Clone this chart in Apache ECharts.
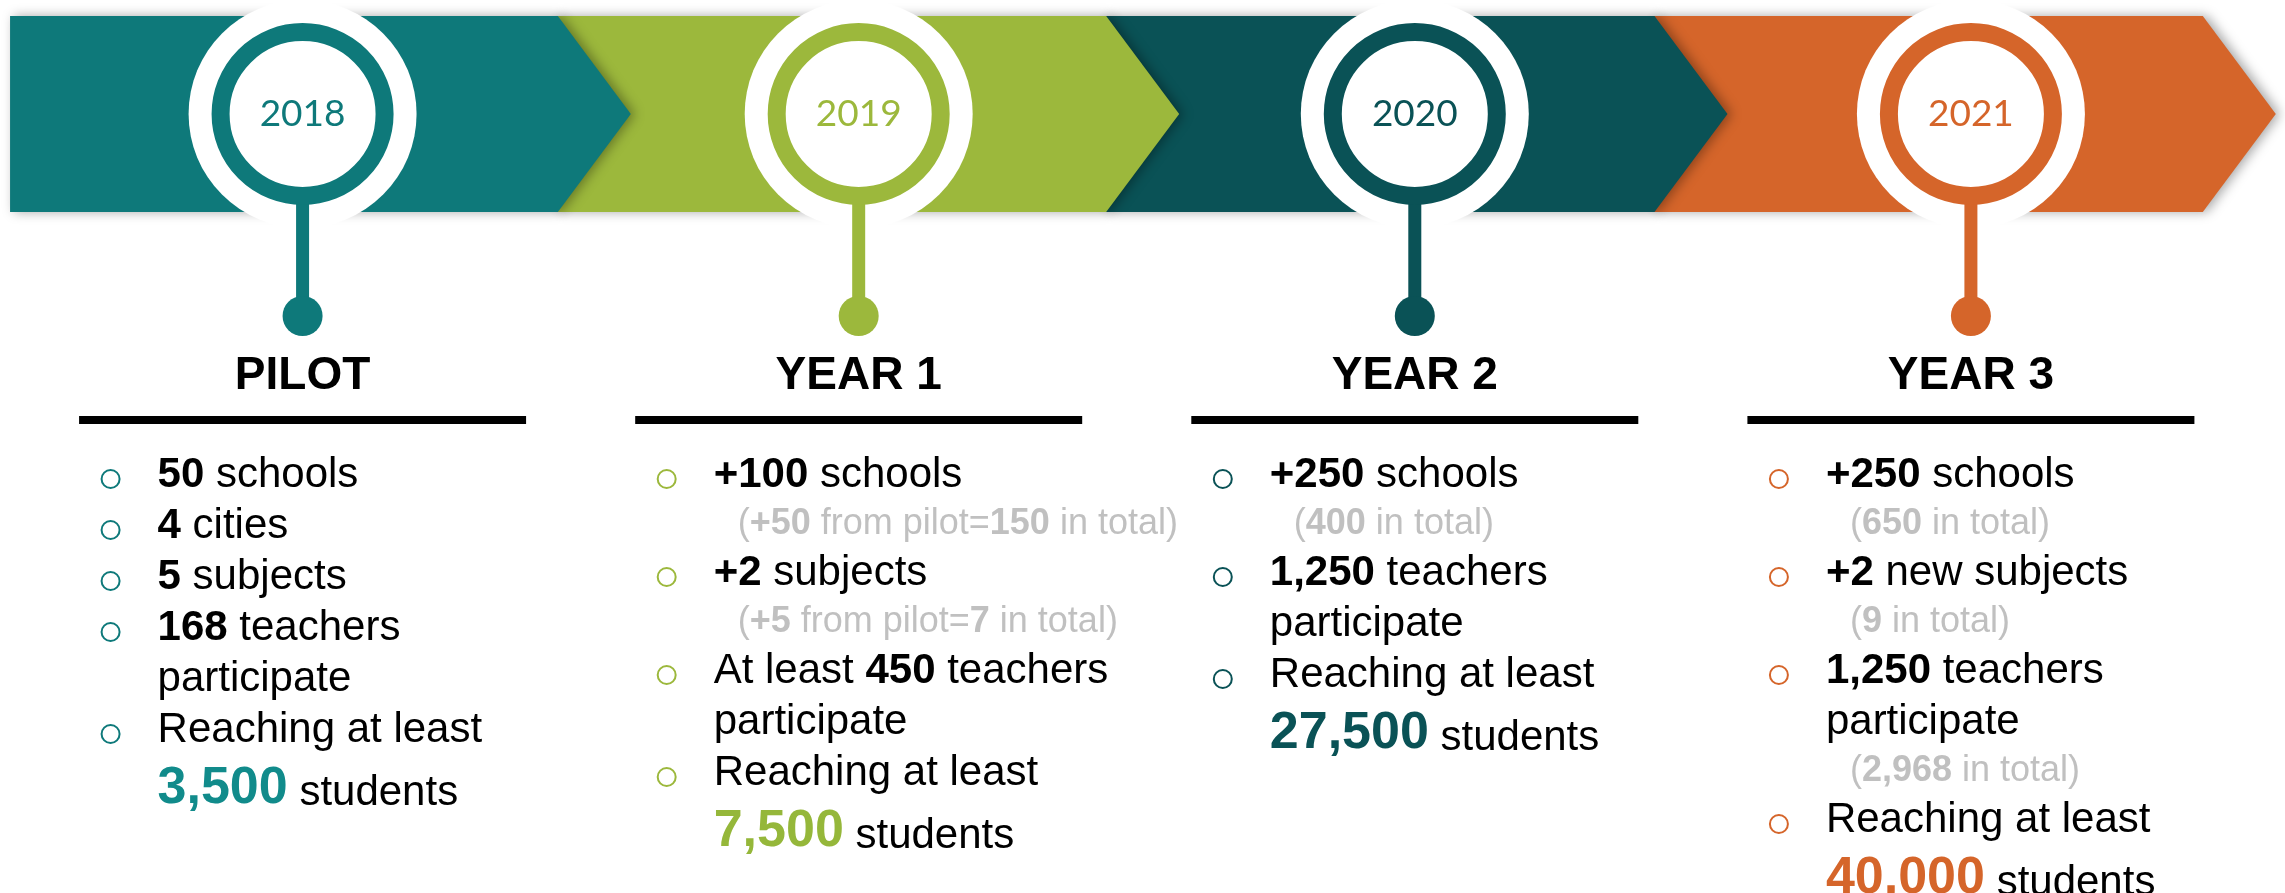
<!DOCTYPE html>
<html>
<head>
<meta charset="utf-8">
<title>Programme timeline 2018-2021</title>
<script src="https://cdn.jsdelivr.net/npm/echarts@6/dist/echarts.min.js"></script>
<style>
  html, body { margin: 0; padding: 0; background: #fff; }
  #chart { width: 2285px; height: 893px; }
</style>
</head>
<body>
<div id="chart"></div>
<script>
// timeline stages
const years = ['2018', '2019', '2020', '2021'];
const phases = ['PILOT', 'YEAR 1', 'YEAR 2', 'YEAR 3'];

// rows under each stage: b = new bullet, c = continued line,
// n = grey note, s = students line with the big number
const pilotRows = [
  ['b', '**50** schools'],
  ['b', '**4** cities'],
  ['b', '**5** subjects'],
  ['b', '**168** teachers'],
  ['c', 'participate'],
  ['b', 'Reaching at least'],
  ['s', '**3,500** students']
];
const year1Rows = [
  ['b', '**+100** schools'],
  ['n', '(**+50** from pilot=**150** in total)'],
  ['b', '**+2** subjects'],
  ['n', '(**+5** from pilot=**7** in total)'],
  ['b', 'At least **450** teachers'],
  ['c', 'participate'],
  ['b', 'Reaching at least'],
  ['s', '**7,500** students']
];
const year2Rows = [
  ['b', '**+250** schools'],
  ['n', '(**400** in total)'],
  ['b', '**1,250** teachers'],
  ['c', 'participate'],
  ['b', 'Reaching at least'],
  ['s', '**27,500** students']
];
const year3Rows = [
  ['b', '**+250** schools'],
  ['n', '(**650** in total)'],
  ['b', '**+2** new subjects'],
  ['n', '(**9** in total)'],
  ['b', '**1,250** teachers'],
  ['c', 'participate'],
  ['n', '(**2,968** in total)'],
  ['b', 'Reaching at least'],
  ['s', '**40,000** students']
];
const stageRows = [pilotRows, year1Rows, year2Rows, year3Rows];

// look
const bandColors = ['#0e797a', '#9cb83c', '#0a5256', '#d5652a'];
const numberColors = ['#118b8b', '#95b73a', '#0a5256', '#d5652a'];
const FONT = '"Liberation Sans", Arial, sans-serif';

// layout (y in axis units = px from top)
const BAND_TOP = 16, BAND_BOTTOM = 212, BAND_MID = 114;
const TIP = 73;
const segEnd = i => 0.459 + 0.986 * i;   // right edge of each arrow, stage units
const BAND_LEFT = -0.526;
const DOT_Y = 316, HEAD_BASE = 392, RULE_Y = 416;
const FIRST_BASE = 490;

function step(prev, kind) {
  if (kind === 'n') return 47;
  if (prev === 'n') return 51;
  if (kind === 's') return 62;
  return 51;
}

function markup(txt, kind) {
  return txt.split('**').map((p, j) => {
    if (!p) return '';
    const bold = j % 2 === 1;
    if (kind === 'n') return bold ? '{gb|' + p + '}' : '{g|' + p + '}';
    if (kind === 's') return bold ? '{num|' + p + '}' : '{sb|' + p + '}';
    return bold ? '{b|' + p + '}' : '{r|' + p + '}';
  }).join('');
}

function renderBand(params, api) {
  const i = api.value(0);
  const xEnd = api.coord([segEnd(i), 0])[0];
  const xStart = i === 0 ? api.coord([BAND_LEFT, 0])[0] : api.coord([segEnd(i - 1), 0])[0] - 2;
  const yTop = api.coord([0, BAND_TOP])[1];
  const yBot = api.coord([0, BAND_BOTTOM])[1];
  const yMid = (yTop + yBot) / 2;
  return {
    type: 'polygon',
    shape: { points: [[xStart, yTop], [xEnd, yTop], [xEnd + TIP, yMid], [xEnd, yBot], [xStart, yBot]] },
    style: { fill: bandColors[i], shadowBlur: 12, shadowOffsetX: 4, shadowColor: 'rgba(0,0,0,0.35)' }
  };
}

function renderPin(params, api) {
  const i = api.value(0);
  const c = api.coord([i, BAND_MID]);
  const cx = c[0], cy = c[1];
  const dotY = api.coord([i, DOT_Y])[1];
  const color = bandColors[i];
  return {
    type: 'group',
    children: [
      { type: 'circle', shape: { cx: cx, cy: cy, r: 114 }, style: { fill: '#fff' } },
      { type: 'rect', shape: { x: cx - 6.5, y: cy + 80, width: 13, height: dotY - cy - 80 }, style: { fill: color } },
      { type: 'circle', shape: { cx: cx, cy: dotY, r: 20 }, style: { fill: color } },
      { type: 'circle', shape: { cx: cx, cy: cy, r: 82 }, style: { fill: '#fff', stroke: color, lineWidth: 18 } },
      {
        type: 'text',
        style: { x: cx, y: cy, text: years[i], font: '37px Lato, "Open Sans", sans-serif', fill: color, align: 'center', verticalAlign: 'middle' }
      }
    ]
  };
}

function renderText(params, api) {
  const i = api.value(0);
  const cx = api.coord([i, 0])[0];
  const color = bandColors[i];
  const yOf = v => api.coord([i, v])[1];
  const children = [];
  children.push({
    type: 'text',
    style: { x: cx, y: yOf(HEAD_BASE) - 0.3465 * 46, text: phases[i], font: 'bold 46px ' + FONT, fill: '#000', align: 'center', verticalAlign: 'middle' }
  });
  children.push({ type: 'rect', shape: { x: cx - 223.5, y: yOf(RULE_Y), width: 447, height: 8 }, style: { fill: '#000' } });

  const bulletX = cx - 192;
  const rich = {
    r: { font: '42px ' + FONT, fill: '#000' },
    b: { font: 'bold 42px ' + FONT, fill: '#000' },
    g: { font: '36px ' + FONT, fill: '#c0c0c0' },
    gb: { font: 'bold 36px ' + FONT, fill: '#c0c0c0' },
    num: { font: 'bold 52px ' + FONT, fill: numberColors[i], verticalAlign: 'bottom', lineHeight: 52 },
    sb: { font: '42px ' + FONT, fill: '#000', verticalAlign: 'bottom', lineHeight: 42 }
  };
  let base = FIRST_BASE;
  let prev = null;
  stageRows[i].forEach((row, k) => {
    const kind = row[0];
    if (k > 0) base += step(prev, kind);
    const y = yOf(base);
    if (kind === 'b') {
      children.push({ type: 'circle', shape: { cx: bulletX, cy: y - 11, r: 9 }, style: { fill: 'none', stroke: color, lineWidth: 2 } });
    }
    const off = kind === 'n' ? 12.5 : kind === 's' ? 18.5 : 14.6;
    children.push({
      type: 'text',
      style: {
        x: bulletX + (kind === 'n' ? 71 : 47),
        y: y - off,
        text: markup(row[1], kind),
        rich: rich,
        font: '42px ' + FONT,
        fill: '#000',
        align: 'left',
        verticalAlign: 'middle'
      }
    });
    prev = kind;
  });
  return { type: 'group', children: children };
}

const chart = echarts.init(document.getElementById('chart'));
const stageData = years.map((y, i) => [i, 0]);

chart.setOption({
  animation: false,
  grid: { left: 0, right: 0, top: 0, bottom: 0 },
  xAxis: { type: 'value', min: -0.5441, max: 3.5648, show: false },
  yAxis: { type: 'value', min: 0, max: 893, inverse: true, show: false },
  series: [
    { type: 'custom', name: 'band', data: stageData.slice().reverse(), renderItem: renderBand, z: 1 },
    { type: 'custom', name: 'pins', data: stageData, renderItem: renderPin, z: 2 },
    { type: 'custom', name: 'details', data: stageData, renderItem: renderText, z: 3 }
  ]
});
</script>
</body>
</html>
